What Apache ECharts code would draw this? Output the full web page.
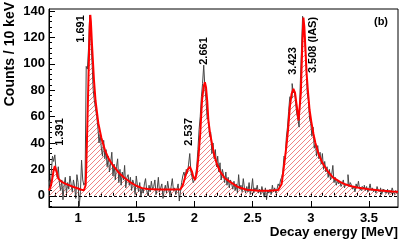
<!DOCTYPE html>
<html>
<head>
<meta charset="utf-8">
<script src="https://cdn.jsdelivr.net/npm/echarts@6/dist/echarts.min.js"></script>
<style>
html,body{margin:0;padding:0;background:#fff;}
#c{width:415px;height:246px;}
</style>
</head>
<body>
<div id="c"></div>
<script>
// ---- data ----
var xTicks = [1, 1.5, 2, 2.5, 3, 3.5];
var yTicks = [0, 20, 40, 60, 80, 100, 120, 140];
var binStart = 0.75, binWidth = 0.01;
var histCounts = [
  12, 8, 18, 30, 26, 31, 20, 14, 22, 9,
  4, 12, -3, 8, 14, 2, 10, 5, 15, 9,
  3, 12, 7, -2, 16, 10, -8, 3, 27, 12,
  8, 10, 98, 96, 112, 137, 120, 101, 80, 72,
  66, 60, 52, 40, 47, 36, 30, 42, 28, 35,
  22, 30, 18, 25, 33, 15, 24, 12, 22, 28,
  10, 20, 8, 18, 12, 23, 6, 14, 16, 8,
  14, 4, 12, 9, 1, 15, 8, 3, 10, -1,
  6, 2, 9, 13, 4, 0, 8, 3, 11, 5,
  7, 12, 1, 5, 14, 3, 6, 9, -2, 4,
  8, 2, 11, 5, 0, 7, 13, 4, 6, 1,
  5, 9, -4, 3, 10, 15, 18, 14, 20, 17,
  24, 32, 18, 14, 10, 12, 16, 22, 35, 50,
  60, 75, 85, 99, 82, 72, 58, 60, 45, 48,
  32, 40, 28, 35, 22, 30, 18, 25, 12, 20,
  16, 10, 18, 8, 14, 6, 12, 9, 5, 11,
  4, 9, 2, 16, 5, 8, 3, 13, 6, 2,
  7, 3, 10, 1, 5, 13, 2, 6, 4, 8,
  2, 5, 1, 7, 3, -1, 6, -3, 4, 2,
  5, 1, 8, 3, 6, 2, 5, 9, 7, 12,
  14, 18, 30, 28, 44, 52, 64, 75, 74, 85,
  78, 80, 70, 62, 58, 52, 85, 110, 136, 128,
  118, 98, 78, 72, 58, 55, 45, 52, 36, 40,
  30, 38, 28, 33, 24, 32, 20, 26, 18, 22,
  14, 20, 12, 16, 23, 10, 14, 8, 12, 9,
  11, 7, 9, 12, 6, 9, 8, 16, 7, 10,
  8, 5, 7, 3, 9, 6, 11, 5, 4, 7,
  6, 8, 4, 7, 3, 5, 9, 4, 6, 3,
  5, 2, 7, 4, 3, 6, 1, 5, 4, 2,
  3, 5, 1, 4, 2, 6, 3, 1, 4, 2
];
var fitE = [0.75,0.76,0.77,0.78,0.79,0.80,0.805,0.81,0.82,0.83,0.84,0.86,0.88,0.90,0.95,1.00,1.03,1.05,1.06,1.065,1.07,1.08,1.09,1.10,1.105,1.11,1.12,1.137,1.15,1.174,1.20,1.231,1.26,1.30,1.35,1.40,1.45,1.50,1.55,1.60,1.70,1.80,1.88,1.89,1.90,1.92,1.94,1.96,1.97,1.98,1.99,2.005,2.02,2.035,2.05,2.065,2.08,2.09,2.10,2.11,2.12,2.135,2.15,2.17,2.19,2.22,2.26,2.31,2.375,2.45,2.55,2.65,2.72,2.735,2.75,2.762,2.775,2.79,2.805,2.82,2.835,2.851,2.865,2.88,2.895,2.905,2.915,2.925,2.937,2.945,2.955,2.965,2.975,2.99,3.005,3.023,3.04,3.066,3.10,3.138,3.19,3.252,3.30,3.35,3.40,3.452,3.50,3.60,3.70,3.75];
var fitV = [4,6,9,14,19.5,22.5,22.7,21.5,17,13,11.5,10.5,9.6,8.8,7,5.5,4.6,4.2,4.5,8,20,55,92,128,137,132,114,87,72,55,44,34.6,28.5,23,17.5,13.5,10.2,7.6,5.8,5.1,4.8,4.8,4.9,5.5,8,14,19.5,22,21,18,14.5,12,17,30,47,72,83,86,82,72,57,47,40,31,25,18.5,13.5,10.3,6.6,4.6,3.8,3.8,4.3,5,9,17,26,37,50,67,77,81,78,68,57,56,78,108,135,128,110,92,80,65,56,47,40,32,25,19.5,14,10.6,8.5,7.2,6.3,5.6,4.9,4,3.3,3];
var peakLabels = ['1.391', '1.691', '2.537', '2.661', '3.423', '3.508 (IAS)'];

// ---- build ----
var histData = [];
for (var i = 0; i < histCounts.length; i++) {
  histData.push([binStart + binWidth * (i + 0.5), histCounts[i]]);
}
histData.unshift([binStart, histCounts[0]]);
histData.push([binStart + binWidth * histCounts.length, histCounts[histCounts.length - 1]]);
var fitData = fitE.map(function (e, k) { return [e, fitV[k]]; });

var minorX = [];
for (var t = 8; t <= 37; t++) minorX.push(t / 10);
var minorY = [];
for (var u = -8; u <= 140; u += 4) minorY.push(u);

// hatch pattern
var pc = document.createElement('canvas');
pc.width = 5; pc.height = 5;
var g = pc.getContext('2d');
g.fillStyle = 'rgba(235,90,90,0.75)';
for (var p = 0; p < 5; p++) g.fillRect(p, 4 - p, 1, 1);

var FONT = 'Liberation Sans';
var chart = echarts.init(document.getElementById('c'), null, {renderer: 'canvas'});
var lbl = function (txt, x, y) {
  return {type: 'text', x: x, y: y, rotation: Math.PI / 2,
    style: {text: txt, font: 'bold 11px "' + FONT + '"', fill: '#000', align: 'center', verticalAlign: 'middle'}};
};
chart.setOption({
  animation: false,
  grid: {left: 49, right: 17, top: 9, bottom: 39, show: true, borderColor: '#000', borderWidth: 1, backgroundColor: 'transparent'},
  xAxis: [{
    type: 'value', min: 0.75, max: 3.75, position: 'bottom',
    axisLine: {show: true, onZero: false, lineStyle: {color: '#000', width: 1}},
    axisTick: {show: true, inside: true, length: 6, customValues: xTicks, lineStyle: {color: '#000'}},
    axisLabel: {show: true, customValues: xTicks, margin: 5, fontFamily: FONT, fontWeight: 'bold', fontSize: 13, color: '#000'},
    splitLine: {show: false}
  }, {
    type: 'value', min: 0.75, max: 3.75, position: 'bottom',
    axisLine: {show: false},
    axisTick: {show: true, inside: true, length: 3, customValues: minorX, lineStyle: {color: '#000'}},
    axisLabel: {show: false}, splitLine: {show: false}
  }],
  yAxis: [{
    type: 'value', min: -8.5, max: 141.5, position: 'left',
    axisLine: {show: true, onZero: false, lineStyle: {color: '#000', width: 1}},
    axisTick: {show: true, inside: true, length: 6, customValues: yTicks, lineStyle: {color: '#000'}},
    axisLabel: {show: true, customValues: yTicks, margin: 4, fontFamily: FONT, fontWeight: 'bold', fontSize: 13, color: '#000'},
    splitLine: {show: false}
  }, {
    type: 'value', min: -8.5, max: 141.5, position: 'left',
    axisLine: {show: false},
    axisTick: {show: true, inside: true, length: 3, customValues: minorY, lineStyle: {color: '#000'}},
    axisLabel: {show: false}, splitLine: {show: false}
  }],
  series: [{
    type: 'line', name: 'fitArea', data: fitData, showSymbol: false, silent: true,
    lineStyle: {width: 0, opacity: 0},
    areaStyle: {color: {image: pc, repeat: 'repeat'}, opacity: 1},
    z: 1
  }, {
    type: 'line', name: 'hist', data: histData, step: 'middle', showSymbol: false, silent: true,
    lineStyle: {color: '#444', width: 1},
    markLine: {silent: true, symbol: 'none', label: {show: false},
      lineStyle: {color: '#000', type: [3, 2], width: 1},
      data: [{yAxis: 0}]},
    z: 2
  }, {
    type: 'line', name: 'fit', data: fitData, showSymbol: false, silent: true,
    lineStyle: {color: '#ff0000', width: 2},
    z: 3
  }],
  graphic: [
    {type: 'text', x: 10.5, y: 2, rotation: Math.PI / 2,
      style: {text: 'Counts / 10 keV', font: 'bold 14px "' + FONT + '"', fill: '#000', align: 'right', verticalAlign: 'middle'}},
    {type: 'text', x: 398, y: 232,
      style: {text: 'Decay energy [MeV]', font: 'bold 13.5px "' + FONT + '"', fill: '#000', align: 'right', verticalAlign: 'middle'}},
    {type: 'text', x: 381, y: 21.5,
      style: {text: '(b)', font: 'bold 11px "' + FONT + '"', fill: '#000', align: 'center', verticalAlign: 'middle'}},
    lbl(peakLabels[0], 60, 132),
    lbl(peakLabels[1], 80.7, 29),
    lbl(peakLabels[2], 189.3, 132),
    lbl(peakLabels[3], 204, 51),
    lbl(peakLabels[4], 293.3, 61),
    lbl(peakLabels[5], 313.3, 45)
  ]
});
</script>
</body>
</html>
